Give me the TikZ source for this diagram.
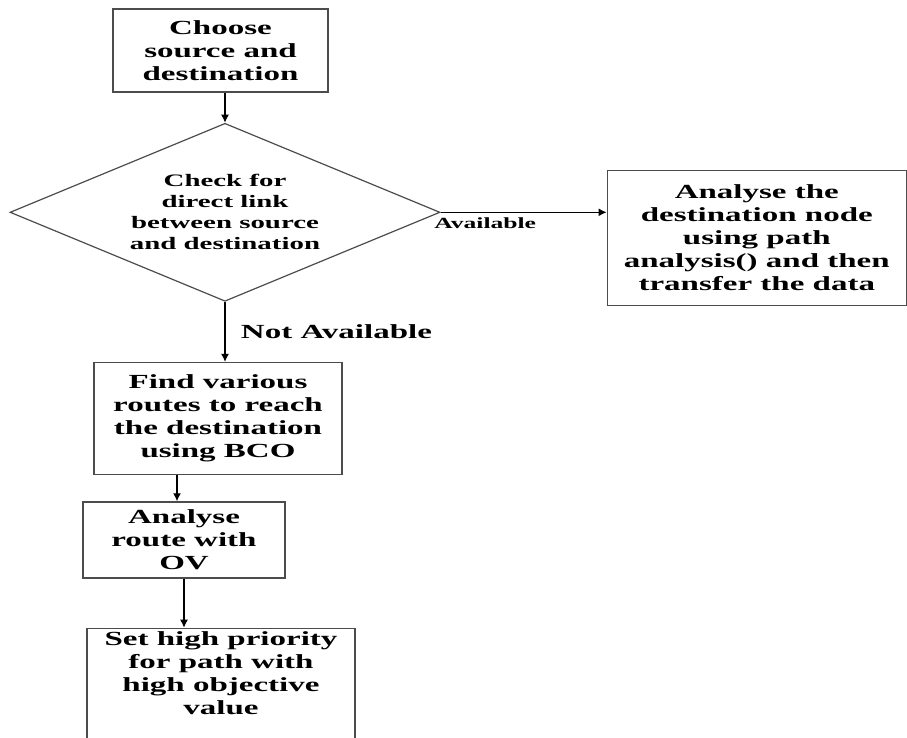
\documentclass[tikz,border=0pt]{standalone}
\usepackage{fontspec}
\setmainfont{Liberation Serif}[FakeStretch=1.65]
\usetikzlibrary{arrows.meta, positioning, shapes.geometric}

\definecolor{boxline}{gray}{0.3}

\begin{document}
\begin{tikzpicture}[
  x=1pt, y=-1pt,
  font=\bfseries\fontsize{20}{23}\selectfont,
  box/.style={draw=boxline, line width=1.4pt, align=center, inner sep=3pt},
  decision/.style={diamond, aspect=2.4, draw=boxline, line width=1.2pt, align=center, inner sep=0pt, font=\bfseries\fontsize{17.5}{21}\selectfont},
  arr/.style={-{Latex[length=8pt,width=8pt]}, line width=1.3pt}
]
\clip (0,0) rectangle (907,738);
\fill[white] (0,0) rectangle (907,738);
\node[box, minimum width=215pt, minimum height=83pt] (start) at (220.5,50.5) {Choose\\source and\\destination};
\node[decision, minimum width=430pt, minimum height=178pt, below=30pt of start, xshift=4.5pt] (check) {Check for\\direct link\\between source\\and destination};
\node[box, minimum width=299pt, minimum height=135pt, right=166pt of check.east, yshift=-25.5pt] (analyse) {Analyse the\\destination node\\using path\\analysis() and then\\transfer the data};
\node[box, minimum width=248pt, minimum height=112pt, below=60pt of check, xshift=-7pt] (routes) {Find various\\routes to reach\\the destination\\using BCO};
\node[box, minimum width=202pt, minimum height=76pt, below=26pt of routes, xshift=-34pt] (ov) {Analyse\\route with\\OV};
\node[box, minimum width=268pt, below=49pt of ov, xshift=37pt] (priority) {Set high priority\\for path with\\high objective\\value\\\rule{0pt}{50pt}};
% connectors
\draw[arr] (check.north |- start.south) -- (check.north);
\draw[arr] (check.east) -- (check.east -| analyse.west)
  node[pos=0, anchor=north west, inner sep=2pt, xshift=-9pt, yshift=-3pt, font=\bfseries\fontsize{15.5}{18}\selectfont] (avail) {Available};
\draw[arr] (check.south) -- (check.south |- routes.north)
  node[midway, right=12pt] (notavail) {Not Available};
\draw[arr] ([xshift=-7pt]ov.north |- routes.south) -- ([xshift=-7pt]ov.north);
\draw[arr] (ov.south) -- (ov.south |- priority.north);
\end{tikzpicture}
\end{document}
